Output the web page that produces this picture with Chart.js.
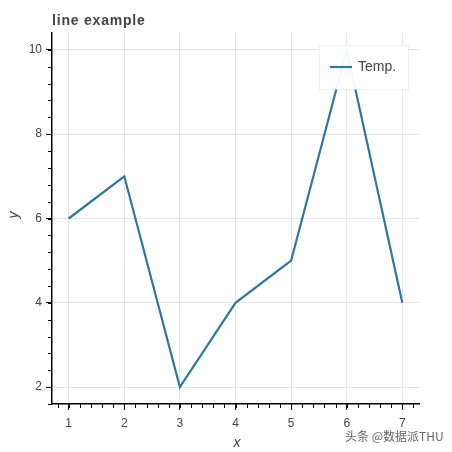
<!DOCTYPE html>
<html><head><meta charset="utf-8">
<script src="https://cdn.jsdelivr.net/npm/chart.js@4/dist/chart.umd.min.js"></script>
<style>html,body{margin:0;padding:0;background:#fff;}#wrap{width:452px;height:452px;position:relative;}</style>
</head><body><div id="wrap"><canvas id="c" width="452" height="452"></canvas></div>
<script>
const xValues = [1, 2, 3, 4, 5, 6, 7];
const yValues = [6, 7, 2, 4, 5, 10, 4];
const xTicks = [1, 2, 3, 4, 5, 6, 7];
const yTicks = [2, 4, 6, 8, 10];
const seriesName = 'Temp.';
const titleText = 'line example';
const xLabel = 'x';
const yLabel = 'y';
const watermark = '头条 @数据派THU';

const LINE = '#2c77a4';
const TXT = '#444';

const minorPlugin = {
  id: 'extras',
  afterDraw(chart) {
    const ctx = chart.ctx;
    const xs = chart.scales.x, ys = chart.scales.y;
    const ca = chart.chartArea;
    ctx.save();
    ctx.strokeStyle = '#000';
    ctx.lineWidth = 1;
    for (let v = 0.8; v <= 7.3; v += 0.2) {
      const p = Math.round(xs.getPixelForValue(v)) + 0.5;
      ctx.beginPath(); ctx.moveTo(p, ca.bottom); ctx.lineTo(p, ca.bottom + 4); ctx.stroke();
    }
    for (let v = 1.6; v <= 10.4; v += 0.4) {
      const p = Math.round(ys.getPixelForValue(v)) + 0.5;
      ctx.beginPath(); ctx.moveTo(ca.left, p); ctx.lineTo(ca.left - 4, p); ctx.stroke();
    }
    const lx = 319, ly = 45, lw = 89, lh = 44;
    ctx.fillStyle = 'rgba(255,255,255,0.95)';
    ctx.fillRect(lx, ly, lw, lh);
    ctx.strokeStyle = 'rgba(230,230,230,0.6)';
    ctx.strokeRect(lx + 0.5, ly + 0.5, lw, lh);
    ctx.strokeStyle = LINE; ctx.lineWidth = 2.2;
    ctx.beginPath(); ctx.moveTo(330, 67); ctx.lineTo(352, 67); ctx.stroke();
    ctx.fillStyle = TXT;
    ctx.font = '14px "Liberation Sans", Arial, sans-serif';
    ctx.textBaseline = 'middle'; ctx.textAlign = 'left';
    ctx.fillText(seriesName, 358, 67);
    ctx.font = 'bold 14px "Liberation Sans", Arial, sans-serif';
    ctx.fillStyle = TXT; ctx.textBaseline = 'alphabetic';
    ctx.letterSpacing = '0.8px';
    ctx.fillText(titleText, 52, 25);
    ctx.letterSpacing = '0px';
    ctx.font = 'italic 14px "Liberation Sans", Arial, sans-serif';
    ctx.textAlign = 'center';
    ctx.fillText(xLabel, 237, 447);
    ctx.save(); ctx.translate(18, 215); ctx.rotate(-Math.PI / 2);
    ctx.fillText(yLabel, 0, 0); ctx.restore();
    ctx.font = '12px "Noto Sans CJK SC", sans-serif';
    ctx.fillStyle = '#666'; ctx.textAlign = 'left';
    ctx.fillText(watermark, 345, 441);
    ctx.restore();
  }
};

new Chart(document.getElementById('c'), {
  type: 'line',
  data: {
    datasets: [{
      label: seriesName,
      data: xValues.map((x, i) => ({x: x, y: yValues[i]})),
      borderColor: LINE, borderWidth: 2.2, pointRadius: 0, tension: 0, fill: false
    }]
  },
  options: {
    responsive: false, animation: false, devicePixelRatio: 1,
    layout: {padding: {left: 0, right: 33, top: 33, bottom: 0}},
    plugins: {legend: {display: false}, tooltip: {enabled: false}},
    scales: {
      x: {
        type: 'linear', min: 0.7, max: 7.3,
        afterBuildTicks: s => { s.ticks = xTicks.map(v => ({value: v})); },
        afterFit: s => { s.height = 48; },
        grid: {color: '#e6e6e6', tickColor: '#000', tickLength: 6, drawTicks: true},
        border: {color: '#000', width: 1.5},
        ticks: {color: TXT, font: {size: 12, family: '"Liberation Sans", Arial'}, padding: 6, maxRotation: 0}
      },
      y: {
        type: 'linear', min: 1.6, max: 10.4,
        afterBuildTicks: s => { s.ticks = yTicks.map(v => ({value: v})); },
        afterFit: s => { s.width = 52; },
        grid: {color: '#e6e6e6', tickColor: '#000', tickLength: 6, drawTicks: true},
        border: {color: '#000', width: 1.5},
        ticks: {color: TXT, font: {size: 12, family: '"Liberation Sans", Arial'}, padding: 4}
      }
    }
  },
  plugins: [minorPlugin]
});
</script></body></html>
